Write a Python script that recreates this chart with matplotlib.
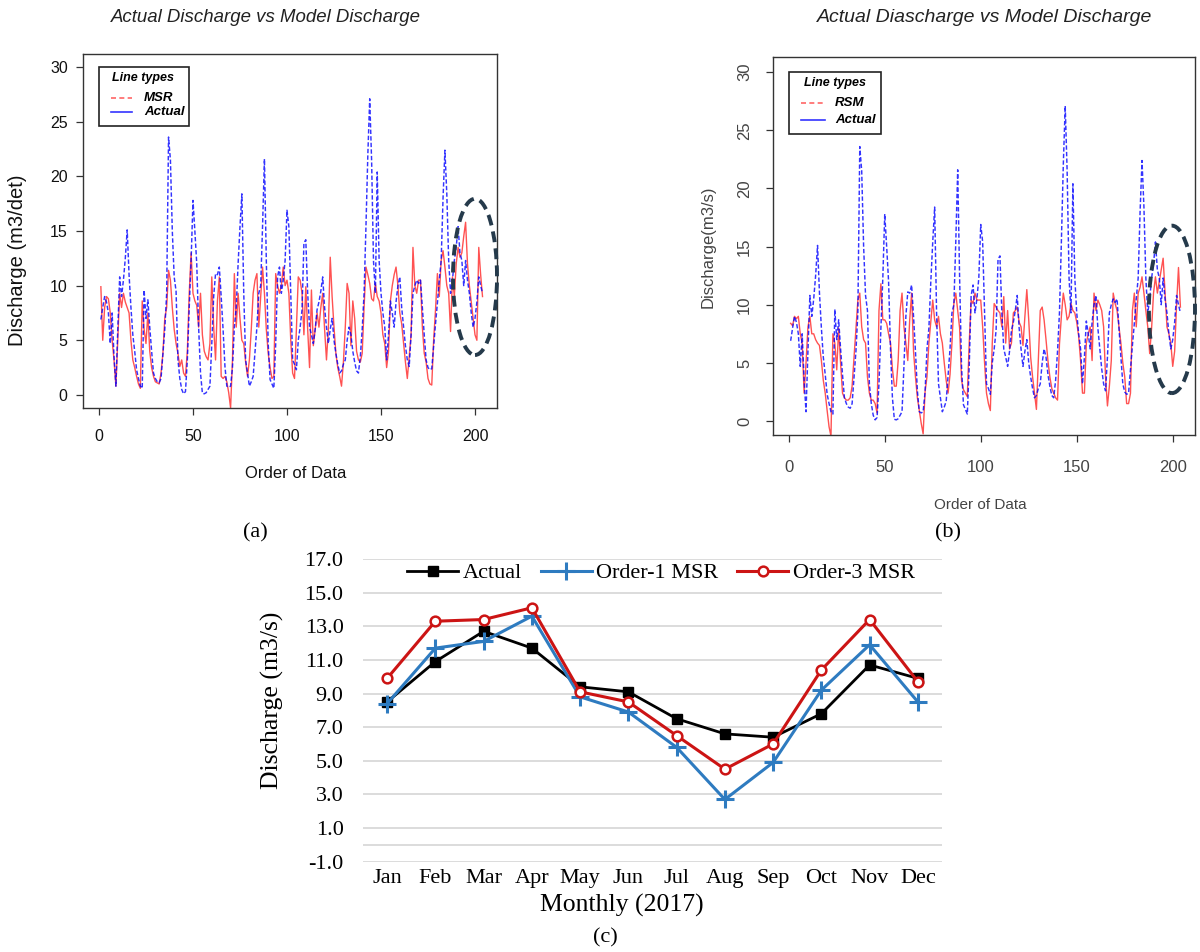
import matplotlib
matplotlib.use('Agg')
import matplotlib.pyplot as plt
import numpy as np
from matplotlib.patches import Ellipse, Rectangle
from matplotlib.lines import Line2D

SANS = 'Liberation Sans'
SERIF = 'Liberation Serif'
plt.rcParams['font.family'] = [SANS, 'DejaVu Sans']

# ---------------- data ----------------
actual = [
    6.9, 8.0, 9.0, 8.5, 7.5, 4.7, 7.5, 3.5, 0.8, 6.0,
    10.8, 9.0, 10.5, 12.5, 15.1, 11.0, 8.0, 5.5, 4.0, 2.3,
    1.5, 0.8, 0.6, 9.6, 7.0, 8.7, 6.2, 4.0, 2.0, 1.5,
    1.2, 1.1, 1.5, 3.8, 6.0, 9.3, 23.6, 21.5, 15.0, 10.8,
    9.5, 3.2, 1.5, 0.5, 0.1, 0.3, 3.2, 8.0, 12.3, 17.8,
    15.0, 12.0, 6.2, 2.0, 0.15, 0.1, 0.2, 0.5, 0.8, 4.7,
    9.0, 11.1, 11.0, 11.7, 9.0, 6.0, 2.6, 0.8, 0.7, 0.8,
    2.5, 6.2, 8.0, 12.0, 15.4, 18.4, 9.3, 3.2, 2.0, 0.8,
    1.2, 1.7, 4.0, 6.2, 9.3, 10.0, 15.4, 21.6, 12.3, 4.7,
    1.4, 1.0, 0.6, 4.7, 10.8, 11.7, 9.3, 10.5, 12.3, 16.9,
    15.4, 9.3, 3.2, 2.8, 2.3, 5.0, 6.2, 7.8, 13.9, 14.2,
    9.3, 6.2, 5.5, 4.7, 6.0, 7.8, 8.5, 9.5, 10.8, 8.0,
    6.2, 4.7, 6.0, 7.0, 5.0, 3.8, 2.8, 2.0, 2.2, 2.8,
    3.2, 5.0, 6.2, 5.5, 4.0, 3.0, 2.2, 2.0, 3.5, 6.0,
    9.3, 15.4, 22.0, 27.1, 21.5, 12.3, 9.3, 20.4, 12.3, 9.3,
    7.5, 6.2, 3.2, 5.5, 8.6, 7.5, 6.2, 8.5, 10.0, 10.8,
    8.0, 6.2, 4.5, 3.2, 2.6, 5.5, 9.3, 10.0, 10.5, 10.2,
    10.5, 8.0, 5.5, 3.2, 2.5, 2.3, 2.4, 4.5, 6.5, 8.4,
    10.5, 12.3, 18.0, 22.4, 18.4, 12.3, 9.3, 10.5, 12.3, 13.5,
    15.4, 13.0, 12.3, 10.0, 12.3, 10.5, 9.3, 7.5, 6.2, 7.0,
    8.5, 10.8, 10.0, 9.3,
]
msr = [
    9.9, 5.0, 8.0, 9.0, 8.8, 7.5, 5.0, 3.2, 0.8, 5.0,
    9.3, 8.0, 9.3, 8.5, 8.0, 7.5, 5.0, 3.2, 2.5, 1.7,
    1.0, 0.6, 8.6, 6.0, 4.7, 7.5, 4.0, 2.5, 1.7, 1.2,
    1.1, 1.0, 2.0, 3.8, 7.0, 8.0, 11.4, 10.5, 8.0, 6.0,
    4.7, 3.8, 2.6, 3.2, 2.0, 1.7, 4.0, 9.3, 13.0, 9.3,
    8.6, 8.2, 6.2, 9.3, 5.5, 4.0, 3.5, 3.2, 4.7, 10.8,
    6.2, 3.2, 8.6, 10.8, 1.7, 1.5, 1.7, 1.2, 0.2, -1.2,
    3.2, 11.1, 6.2, 9.3, 7.0, 5.0, 4.7, 3.0, 1.7, 3.2,
    6.0, 9.3, 10.5, 11.1, 6.2, 9.0, 11.7, 9.3, 6.0, 3.8,
    2.5, 1.5, 1.7, 11.1, 10.0, 9.3, 10.0, 11.7, 10.0, 10.5,
    9.3, 5.0, 2.0, 1.5, 6.0, 10.8, 10.5, 9.3, 5.5, 9.9,
    6.0, 2.5, 9.6, 4.5, 6.0, 7.5, 6.2, 8.0, 9.3, 6.0,
    3.2, 6.0, 12.6, 9.0, 6.2, 3.8, 2.5, 1.7, 0.8, 3.0,
    6.2, 10.2, 9.3, 4.5, 8.6, 7.0, 4.0, 3.2, 3.0, 3.8,
    8.0, 11.7, 11.0, 10.2, 8.8, 8.6, 10.2, 9.0, 8.6, 7.5,
    5.5, 4.7, 2.5, 4.0, 8.6, 10.0, 11.0, 11.7, 10.0, 7.5,
    6.5, 4.7, 3.0, 1.5, 3.5, 5.5, 13.5, 10.0, 9.3, 10.5,
    10.5, 6.2, 3.8, 3.0, 1.5, 1.0, 0.9, 5.0, 7.8, 11.1,
    9.0, 12.3, 13.2, 11.7, 10.0, 9.3, 5.8, 10.8, 9.0, 12.0,
    13.5, 12.6, 13.0, 14.5, 15.8, 12.0, 10.0, 8.5, 7.0, 5.5,
    5.0, 13.5, 11.0, 9.0,
]
rsm = [
    8.4, 8.2, 9.0, 8.8, 9.0, 7.5, 6.7, 2.4, 5.0, 8.1,
    9.0, 7.5, 7.5, 7.0, 6.7, 6.5, 5.2, 3.5, 2.4, 0.9,
    -0.5, -1.3, 7.5, 6.7, 4.4, 8.0, 5.0, 2.4, 2.0, 1.8,
    1.8, 2.0, 3.0, 5.5, 8.0, 10.4, 11.0, 8.1, 7.0, 6.7,
    3.8, 2.4, 1.8, 1.8, 1.5, 0.7, 9.5, 11.8, 8.7, 8.7,
    8.4, 7.5, 6.7, 4.5, 3.0, 3.0, 5.2, 9.5, 11.0, 8.1,
    6.7, 5.2, 8.7, 11.0, 6.0, 3.8, 2.0, 0.9, -0.2, -1.1,
    2.5, 3.8, 6.7, 8.5, 10.4, 8.7, 8.1, 9.0, 7.5, 6.7,
    5.0, 3.5, 2.4, 4.0, 6.7, 10.1, 11.0, 9.5, 8.0, 3.5,
    2.7, 2.4, 2.1, 6.7, 10.4, 10.1, 11.0, 10.4, 10.4, 10.4,
    8.1, 5.0, 2.4, 1.5, 0.9, 6.7, 10.1, 9.8, 9.5, 9.3,
    8.1, 10.7, 6.7, 9.5, 6.2, 6.7, 9.3, 9.5, 9.8, 8.5,
    8.1, 6.5, 9.0, 11.3, 8.7, 5.5, 3.8, 2.4, 1.0, 5.2,
    9.5, 9.8, 8.7, 7.0, 5.2, 3.8, 2.8, 2.4, 2.0, 1.8,
    6.6, 9.0, 11.0, 10.0, 8.7, 9.0, 10.1, 9.5, 9.3, 8.5,
    7.3, 5.2, 2.4, 2.4, 6.7, 7.5, 8.1, 5.2, 11.0, 9.5,
    10.4, 10.0, 9.5, 8.1, 3.8, 1.3, 3.0, 5.2, 11.0, 10.1,
    9.5, 8.1, 6.7, 5.0, 3.8, 1.5, 1.5, 2.4, 9.5, 11.0,
    8.1, 11.0, 11.5, 12.4, 11.0, 9.5, 8.1, 5.8, 8.0, 11.0,
    12.4, 11.0, 12.0, 13.0, 14.0, 11.0, 8.1, 7.5, 6.7, 4.7,
    6.0, 10.0, 13.2, 9.8,
]
top_xticks = [0, 50, 100, 150, 200]
top_yticks = [0, 5, 10, 15, 20, 25, 30]

months = ['Jan', 'Feb', 'Mar', 'Apr', 'May', 'Jun', 'Jul', 'Aug', 'Sep', 'Oct', 'Nov', 'Dec']
monthly_actual = [8.5, 10.9, 12.7, 11.7, 9.4, 9.1, 7.5, 6.6, 6.4, 7.8, 10.7, 9.9]
monthly_order1 = [8.4, 11.7, 12.1, 13.6, 8.8, 7.9, 5.8, 2.7, 4.9, 9.2, 11.9, 8.5]
monthly_order3 = [9.9, 13.3, 13.4, 14.1, 9.1, 8.5, 6.5, 4.5, 6.0, 10.4, 13.4, 9.7]
monthly_yticks = [-1, 1, 3, 5, 7, 9, 11, 13, 15, 17]

# ---------------- layout helpers (pixel -> figure fraction) ----------------
W, H = 1200, 952
fig = plt.figure(figsize=(12, 9.52), dpi=100)


def fx(x):
    return x / W


def fy(y):
    return 1 - y / H


def axes_px(x0, y0, x1, y1):
    return fig.add_axes([fx(x0), fy(y1), (x1 - x0) / W, (y1 - y0) / H])


def top_panel(ax, model, xlim, ylim, ell, tcol, ytick_rot, tsize, xpad, ypad):
    xs = np.arange(1, len(actual) + 1)
    ax.plot(xs, model, color='#ff0000', lw=1.0, alpha=0.68, zorder=2)
    ax.plot(xs, actual, color='#0000ff', lw=1.05, alpha=0.8,
            ls=(0, (3, 1.5)), zorder=3)
    ax.set_xlim(*xlim)
    ax.set_ylim(*ylim)
    ax.set_xticks(top_xticks)
    ax.set_yticks(top_yticks)
    for s in ax.spines.values():
        s.set_color('#333333')
        s.set_linewidth(1.0)
    ax.tick_params(direction='out', length=5, width=0.9, color='#333333',
                   labelsize=tsize, labelcolor=tcol)
    ax.tick_params(axis='x', pad=xpad)
    ax.tick_params(axis='y', pad=ypad)
    if ytick_rot:
        for lab in ax.get_yticklabels():
            lab.set_rotation(90)
            lab.set_va('center')
    e = Ellipse(ell[:2], ell[2], ell[3], fill=False, edgecolor='#253a4b',
                lw=2.8, ls=(0, (2.8, 1.6)), clip_on=False, zorder=5)
    ax.add_patch(e)


def manual_legend(box, title_xy, rows, label):
    x0, y0, x1, y1 = box
    fig.add_artist(Rectangle((fx(x0), fy(y1)), (x1 - x0) / W, (y1 - y0) / H,
                             transform=fig.transFigure, facecolor='white',
                             edgecolor='#222222', lw=1.2, zorder=6))
    fig.text(fx(title_xy[0]), fy(title_xy[1]), 'Line types', fontsize=9,
             fontweight='bold', style='italic', ha='center', va='center',
             zorder=7)
    (lx0, lx1, tx), ys = rows
    fig.add_artist(Line2D([fx(lx0), fx(lx1)], [fy(ys[0])] * 2,
                          transform=fig.transFigure, color='#ff0000',
                          alpha=0.6, lw=1.2, ls=(0, (3, 2)), zorder=7))
    fig.add_artist(Line2D([fx(lx0), fx(lx1)], [fy(ys[1])] * 2,
                          transform=fig.transFigure, color='#0000ff',
                          alpha=0.8, lw=1.2, zorder=7))
    fig.text(fx(tx), fy(ys[0]), label, fontsize=9.5, fontweight='bold',
             style='italic', ha='left', va='center', zorder=7)
    fig.text(fx(tx), fy(ys[1]), 'Actual', fontsize=9.5, fontweight='bold',
             style='italic', ha='left', va='center', zorder=7)


# ---------------- panel (a) ----------------
axA = axes_px(83, 54, 497, 408)
top_panel(axA, msr, (-8.5, 211.7), (-1.2, 31.2), (200, 10.8, 23.4, 14.3),
          '#111111', False, 11.5, 10, 6)
fig.text(fx(266), fy(18), 'Actual Discharge vs Model Discharge', fontsize=13.4,
         style='italic', ha='center', va='center', color='#222222')
fig.text(fx(18), fy(260), 'Discharge (m3/det)', fontsize=14.5, rotation=90,
         ha='center', va='center', color='#111111')
fig.text(fx(296), fy(473), 'Order of Data', fontsize=12, ha='center',
         va='center', color='#111111')
manual_legend((99, 67, 189, 126), (143, 78), ((111, 132, 144), (98, 112)), 'MSR')

# ---------------- panel (b) ----------------
axB = axes_px(773, 57, 1195, 435)
top_panel(axB, rsm, (-8.2, 211.6), (-1.2, 31.3), (199.6, 9.6, 24, 14.4),
          '#444444', True, 12, 13, 10)
fig.text(fx(985), fy(18), 'Actual Diascharge vs Model Discharge', fontsize=14,
         style='italic', ha='center', va='center', color='#222222')
fig.text(fx(708), fy(247), 'Discharge(m3/s)', fontsize=12, rotation=90,
         ha='center', va='center', color='#444444')
fig.text(fx(980), fy(505), 'Order of Data', fontsize=11, ha='center',
         va='center', color='#444444')
manual_legend((789, 72, 881, 134), (835, 83), ((801, 825, 835), (103, 120)), 'RSM')

# ---------------- panel (c) ----------------
axC = axes_px(363, 559, 942, 862)
xi = np.arange(len(months))
l1, = axC.plot(xi, monthly_actual, color='#000000', lw=2.0, marker='s', ms=6.5,
               zorder=3)
l2, = axC.plot(xi, monthly_order1, color='#2E7BC0', lw=2.2, marker='+', ms=13,
               mew=2.2, zorder=4)
l3, = axC.plot(xi, monthly_order3, color='#CC1414', lw=2.2, marker='o', ms=7,
               mfc='white', mec='#CC1414', mew=1.8, zorder=5)
axC.set_xlim(-0.5, len(months) - 0.5)
axC.set_ylim(-1.02, 17)
axC.set_yticks(monthly_yticks)
axC.set_yticklabels([f'{v:.1f}' for v in monthly_yticks], fontfamily=SERIF,
                    fontsize=16)
axC.set_xticks(xi)
axC.set_xticklabels(months, fontfamily=SERIF, fontsize=16)
axC.tick_params(length=0)
axC.tick_params(axis='y', pad=14)
axC.tick_params(axis='x', pad=5)
for s in axC.spines.values():
    s.set_visible(False)
axC.yaxis.grid(True, color='#d9d9d9', lw=1.3)
axC.axhline(0, color='#d9d9d9', lw=1.3, zorder=1)
axC.set_axisbelow(True)
axC.legend([l1, l2, l3], ['Actual', 'Order-1 MSR', 'Order-3 MSR'],
           prop={'family': SERIF, 'size': 16}, ncol=3, frameon=False,
           loc='center', bbox_to_anchor=(fx(661), fy(573)),
           bbox_transform=fig.transFigure, handlelength=2.3,
           handletextpad=0.2, columnspacing=0.85, borderaxespad=0)
fig.text(fx(272), fy(700), 'Discharge (m3/s)', fontsize=18.5, rotation=90,
         ha='center', va='center', fontfamily=SERIF)
fig.text(fx(622), fy(905), 'Monthly (2017)', fontsize=18.5, ha='center',
         va='center', fontfamily=SERIF)

# sub-figure labels
fig.text(fx(255), fy(533), '(a)', fontsize=16, ha='center', va='center',
         fontfamily=SERIF)
fig.text(fx(948), fy(533), '(b)', fontsize=16, ha='center', va='center',
         fontfamily=SERIF)
fig.text(fx(605), fy(938), '(c)', fontsize=16, ha='center', va='center',
         fontfamily=SERIF)

fig.savefig('out.png', dpi=100, facecolor='white')
